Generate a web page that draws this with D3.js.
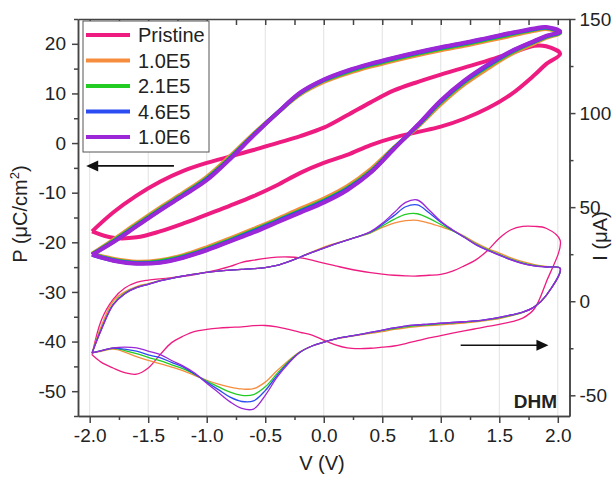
<!doctype html>
<html>
<head>
<meta charset="utf-8">
<title>P-V and I-V loops</title>
<script src="https://d3js.org/d3.v7.min.js"></script>
<style>
body { margin: 0; background: #fff; }
svg { font-family: "Liberation Sans", Arial, sans-serif; }
.axis text { font-size: 19px; fill: #222; }
.axis path, .axis line { stroke: #444; stroke-width: 1.5px; fill: none; }
.grid line { stroke: #e2e2e2; stroke-width: 1px; }
</style>
</head>
<body>
<svg width="613" height="479"></svg>
<script>

var names = ["Pristine", "1.0E5", "2.1E5", "4.6E5", "1.0E6"];
var colors = ["#ee1c80", "#f68d3e", "#22cc22", "#2b4cf2", "#9b27d6"];

// voltage grid of the P-V loops (V)
var vP = [-1.98, -1.8, -1.6, -1.4, -1.2, -1.0, -0.8, -0.6, -0.4, -0.2, 0, 0.2, 0.4, 0.6, 0.8, 1.0, 1.2, 1.4, 1.6, 1.8, 1.9, 2.02];

// P (uC/cm2) on the rising sweep and on the falling sweep
var pRise0 = [-17.8, -19.1, -19.0, -17.8, -16.2, -14.4, -12.6, -10.7, -8.5, -6.0, -4.0, -2.4, -0.4, 1.1, 2.2, 3.3, 4.9, 7.0, 9.8, 13.7, 15.9, 18.0];
var pFall0 = [-17.8, -14.0, -10.6, -7.8, -5.6, -4.0, -2.7, -1.4, 0.0, 1.4, 3.1, 5.6, 8.2, 10.6, 12.3, 13.8, 15.2, 16.6, 18.1, 19.6, 19.5, 18.0];
var pRise1 = [-22.3, -23.3, -23.9, -23.6, -22.6, -21.0, -19.2, -17.3, -15.3, -13.2, -11.2, -8.7, -5.3, -0.9, 3.2, 7.8, 11.8, 15.0, 17.9, 20.1, 21.2, 22.2];
var pFall1 = [-22.3, -19.5, -16.2, -13.0, -10.0, -6.8, -2.6, 1.9, 6.0, 9.8, 12.3, 14.0, 15.4, 16.6, 17.7, 18.7, 19.6, 20.6, 21.6, 22.6, 23.0, 22.2];
var pRise2 = [-22.4, -23.5, -24.1, -23.8, -22.8, -21.3, -19.5, -17.6, -15.6, -13.6, -11.6, -9.1, -5.7, -1.0, 3.4, 8.2, 12.2, 15.4, 18.2, 20.4, 21.4, 22.3];
var pFall2 = [-22.4, -19.7, -16.5, -13.3, -10.3, -7.1, -2.9, 1.7, 6.0, 10.0, 12.6, 14.3, 15.7, 16.9, 18.0, 19.0, 19.9, 20.9, 21.9, 22.9, 23.2, 22.3];
var pRise3 = [-22.5, -23.6, -24.2, -24.0, -23.0, -21.5, -19.7, -17.8, -15.8, -13.8, -11.8, -9.3, -5.9, -1.1, 3.5, 8.4, 12.4, 15.6, 18.4, 20.5, 21.5, 22.4];
var pFall3 = [-22.5, -19.9, -16.7, -13.5, -10.5, -7.3, -3.1, 1.6, 6.0, 10.1, 12.7, 14.5, 15.9, 17.1, 18.2, 19.2, 20.1, 21.1, 22.1, 23.0, 23.3, 22.4];
var pRise4 = [-22.5, -23.7, -24.3, -24.1, -23.1, -21.6, -19.8, -18.0, -16.0, -14.0, -12.0, -9.5, -6.0, -1.2, 3.6, 8.6, 12.6, 15.8, 18.5, 20.6, 21.6, 22.5];
var pFall4 = [-22.5, -20.0, -16.8, -13.6, -10.6, -7.5, -3.2, 1.5, 6.0, 10.2, 12.8, 14.6, 16.0, 17.2, 18.3, 19.3, 20.2, 21.2, 22.2, 23.1, 23.4, 22.5];

// voltage grid of the I-V curves (V)
var vI = [-1.98, -1.9, -1.8, -1.7, -1.6, -1.5, -1.4, -1.3, -1.2, -1.1, -1.0, -0.9, -0.8, -0.7, -0.6, -0.5, -0.4, -0.3, -0.2, -0.1,
          0, 0.1, 0.2, 0.3, 0.4, 0.5, 0.6, 0.7, 0.8, 0.9, 1.0, 1.1, 1.2, 1.3, 1.4, 1.5, 1.6, 1.7, 1.8, 1.9, 2.02];

// I (uA) on the rising sweep and on the falling sweep
var iRise0 = [-28.5, -10.0, 1.0, 7.0, 10.0, 11.2, 11.9, 12.5, 13.2, 14.2, 15.5, 16.8, 18.5, 20.7, 21.8, 22.8, 23.4, 23.5, 23.0, 21.8,
              20.2, 18.8, 17.4, 16.2, 15.2, 14.4, 13.8, 13.5, 13.4, 13.8, 14.3, 16.0, 18.8, 22.0, 27.0, 33.5, 38.0, 39.8, 39.8, 38.8, 32.4];
var iFall0 = [-28.5, -32.5, -35.5, -38.0, -38.8, -35.5, -28.5, -22.0, -18.5, -16.0, -15.0, -14.3, -13.9, -13.6, -13.0, -12.9, -13.6, -15.0, -16.5, -18.0,
              -20.7, -23.2, -24.8, -25.2, -25.0, -24.4, -23.8, -22.5, -21.0, -19.5, -18.3, -17.0, -15.8, -14.6, -13.4, -12.3, -11.0, -9.0, -4.0, 10.0, 32.4];
var iRise1 = [-27.5, -13.0, 0.0, 5.0, 7.8, 9.4, 11.0, 12.3, 13.5, 14.5, 15.3, 16.0, 16.5, 16.9, 17.3, 17.9, 19.0, 21.0, 23.5, 26.2,
              28.8, 30.8, 32.6, 34.4, 36.3, 39.2, 41.5, 42.8, 43.0, 41.5, 39.6, 37.5, 34.6, 31.0, 28.0, 25.6, 23.0, 21.0, 19.5, 18.5, 17.5];
var iFall1 = [-27.5, -26.6, -25.5, -27.0, -29.5, -31.5, -33.2, -35.0, -37.0, -39.5, -42.0, -44.0, -45.6, -46.6, -46.5, -43.0, -37.0, -31.5, -26.8, -23.8,
              -21.8, -20.2, -19.0, -18.0, -17.1, -16.2, -15.0, -14.2, -13.5, -13.0, -12.6, -12.1, -11.6, -11.0, -10.2, -9.2, -7.8, -6.0, -3.0, 3.0, 17.5];
var iRise2 = [-27.5, -14.5, -1.5, 4.3, 7.4, 9.1, 10.9, 12.2, 13.4, 14.4, 15.3, 16.0, 16.5, 16.9, 17.3, 17.9, 19.0, 21.0, 23.5, 26.0,
              28.2, 30.5, 32.5, 34.5, 36.5, 40.0, 43.5, 46.2, 46.5, 44.0, 40.8, 37.5, 34.2, 30.4, 27.4, 24.9, 22.4, 20.4, 19.0, 18.3, 17.5];
var iFall2 = [-27.5, -26.3, -25.0, -26.2, -27.8, -29.8, -31.6, -33.8, -36.0, -39.0, -42.5, -45.5, -48.3, -50.0, -49.6, -45.5, -38.5, -32.0, -26.9, -23.8,
              -21.8, -20.0, -18.8, -17.8, -16.7, -15.6, -14.5, -13.6, -12.9, -12.5, -12.0, -11.6, -11.1, -10.6, -9.8, -8.8, -7.5, -5.9, -3.0, 3.0, 17.5];
var iRise3 = [-27.5, -15.0, -2.0, 4.0, 7.2, 9.0, 10.8, 12.2, 13.4, 14.4, 15.3, 16.0, 16.5, 16.9, 17.3, 17.9, 19.0, 21.0, 23.5, 26.0,
              28.2, 30.5, 32.5, 34.5, 36.8, 40.8, 45.5, 50.2, 51.2, 47.0, 42.0, 37.8, 34.0, 30.1, 27.1, 24.6, 22.1, 20.1, 18.8, 18.2, 17.5];
var iFall3 = [-27.5, -26.2, -24.9, -25.5, -26.5, -28.5, -30.0, -32.5, -35.0, -38.8, -43.0, -47.0, -51.0, -53.3, -53.0, -47.5, -39.5, -32.5, -27.0, -23.8,
              -21.8, -20.0, -18.8, -17.8, -16.6, -15.4, -14.2, -13.2, -12.6, -12.2, -11.7, -11.3, -10.9, -10.4, -9.6, -8.6, -7.3, -5.8, -3.0, 3.0, 17.5];
var iRise4 = [-27.5, -15.0, -2.0, 4.0, 7.2, 9.0, 10.8, 12.2, 13.4, 14.4, 15.3, 16.0, 16.5, 16.9, 17.3, 17.9, 19.0, 21.0, 23.5, 26.0,
              28.2, 30.5, 32.5, 34.5, 37.0, 41.4, 47.0, 52.5, 53.8, 48.5, 42.5, 38.0, 34.0, 30.0, 27.0, 24.5, 22.0, 20.0, 18.8, 18.2, 17.5];
var iFall4 = [-27.5, -26.2, -24.8, -24.4, -24.8, -26.5, -28.2, -31.5, -34.5, -38.3, -43.6, -48.5, -53.5, -57.0, -57.3, -50.0, -40.5, -33.0, -27.0, -23.8,
              -21.8, -20.0, -18.8, -17.8, -16.6, -15.4, -14.2, -13.2, -12.6, -12.2, -11.7, -11.3, -10.9, -10.4, -9.6, -8.6, -7.3, -5.8, -3.0, 3.0, 17.5];

// tick labels
var vTicks = [-2.0, -1.5, -1.0, -0.5, 0.0, 0.5, 1.0, 1.5, 2.0];
var vMinor = [-1.75, -1.25, -0.75, -0.25, 0.25, 0.75, 1.25, 1.75];
var pTicks = [-50, -40, -30, -20, -10, 0, 10, 20];
var pMinor = [-55, -45, -35, -25, -15, -5, 5, 15, 25];
var iTicks = [-50, 0, 50, 100, 150];
var iMinor = [-25, 25, 75, 125];

var pRise = [pRise0, pRise1, pRise2, pRise3, pRise4];
var pFall = [pFall0, pFall1, pFall2, pFall3, pFall4];
var iRise = [iRise0, iRise1, iRise2, iRise3, iRise4];
var iFall = [iFall0, iFall1, iFall2, iFall3, iFall4];

var svg = d3.select("svg"),
    margin = {top: 19, right: 43.5, bottom: 63, left: 78},
    width = +svg.attr("width") - margin.left - margin.right,
    height = +svg.attr("height") - margin.top - margin.bottom;

var x = d3.scaleLinear().domain([-2.1, 2.1]).range([0, width]),
    yP = d3.scaleLinear().domain([-55, 25]).range([height, 0]),
    yI = d3.scaleLinear().domain([-61, 150]).range([height, 0]);

var g = svg.append("g")
    .attr("transform", "translate(" + margin.left + "," + margin.top + ")");

// vertical grid
g.append("g").attr("class", "grid")
  .selectAll("line").data(vTicks).enter().append("line")
    .attr("x1", function(d) { return x(d); })
    .attr("x2", function(d) { return x(d); })
    .attr("y1", 0).attr("y2", height);

// a closed loop: rising sweep, then falling sweep back
function loop(v, rise, fall, y) {
  var pts = v.map(function(d, i) { return [x(d), y(rise[i])]; });
  for (var i = v.length - 2; i >= 0; i--) pts.push([x(v[i]), y(fall[i])]);
  return d3.line().curve(d3.curveCatmullRom.alpha(0.5))(pts);
}

for (var k = 0; k < names.length; k++) {
  g.append("path")
    .attr("d", loop(vI, iRise[k], iFall[k], yI))
    .attr("fill", "none")
    .attr("stroke", colors[k])
    .attr("stroke-width", 1.3);
}
for (var k = 0; k < names.length; k++) {
  g.append("path")
    .attr("d", loop(vP, pRise[k], pFall[k], yP))
    .attr("fill", "none")
    .attr("stroke", colors[k])
    .attr("stroke-width", 4)
    .attr("stroke-linejoin", "round");
}

// axes
var fmt = function(d) { return d.toFixed(1); };

g.append("g").attr("class", "axis")
    .attr("transform", "translate(0," + height + ")")
    .call(d3.axisBottom(x).tickValues(vTicks).tickFormat(fmt).tickSize(7).tickSizeOuter(0).tickPadding(6));
g.append("g").attr("class", "axis")
    .attr("transform", "translate(0," + height + ")")
    .call(d3.axisBottom(x).tickValues(vMinor).tickFormat("").tickSize(4).tickSizeOuter(0));
g.append("g").attr("class", "axis")
    .call(d3.axisTop(x).tickValues(vTicks.concat(vMinor)).tickFormat("").tickSize(-6).tickSizeOuter(0));

g.append("g").attr("class", "axis")
    .call(d3.axisLeft(yP).tickValues(pTicks).tickFormat(function(d) { return d; }).tickSize(6).tickSizeOuter(0).tickPadding(6));
g.append("g").attr("class", "axis")
    .call(d3.axisLeft(yP).tickValues(pMinor).tickFormat("").tickSize(4).tickSizeOuter(0));

g.append("g").attr("class", "axis")
    .attr("transform", "translate(" + width + ",0)")
    .call(d3.axisRight(yI).tickValues(iTicks).tickFormat(function(d) { return d; }).tickSize(6).tickSizeOuter(0).tickPadding(4));
g.append("g").attr("class", "axis")
    .attr("transform", "translate(" + width + ",0)")
    .call(d3.axisRight(yI).tickValues(iMinor).tickFormat("").tickSize(4).tickSizeOuter(0));

// axis titles
svg.append("text")
    .attr("x", 322).attr("y", 470)
    .attr("text-anchor", "middle")
    .attr("font-size", 20).attr("fill", "#222")
    .text("V (V)");

var pl = svg.append("text")
    .attr("transform", "translate(27,214) rotate(-90)")
    .attr("text-anchor", "middle")
    .attr("font-size", 20).attr("fill", "#222");
pl.append("tspan").text("P (\u03bcC/cm");
pl.append("tspan").attr("font-size", 13).attr("dy", -8).text("2");
pl.append("tspan").attr("dy", 8).text(")");

svg.append("text")
    .attr("transform", "translate(607,236) rotate(-90)")
    .attr("text-anchor", "middle")
    .attr("font-size", 20).attr("fill", "#222")
    .text("I (\u03bcA)");

svg.append("text")
    .attr("x", 557).attr("y", 408)
    .attr("text-anchor", "end")
    .attr("font-size", 19).attr("font-weight", "bold").attr("fill", "#222")
    .text("DHM");

// sweep direction arrows
var arrowP = {from: -1.28, to: -2.03, at: -4.6};
var arrowI = {from: 1.17, to: 1.92, at: -23.4};

function arrow(a, y) {
  var x0 = x(a.from), x1 = x(a.to), yy = y(a.at), dir = x1 > x0 ? 1 : -1;
  g.append("line")
    .attr("x1", x0).attr("x2", x1 - dir * 8)
    .attr("y1", yy).attr("y2", yy)
    .attr("stroke", "#111").attr("stroke-width", 1.6);
  g.append("path")
    .attr("d", "M" + x1 + "," + yy + "L" + (x1 - dir * 12) + "," + (yy - 5.5) + "L" + (x1 - dir * 12) + "," + (yy + 5.5) + "Z")
    .attr("fill", "#111");
}
arrow(arrowP, yP);
arrow(arrowI, yI);

// legend
var legend = svg.append("g").attr("transform", "translate(83,21)");
legend.append("rect")
    .attr("width", 126).attr("height", 131)
    .attr("fill", "#fff").attr("stroke", "#555").attr("stroke-width", 1);
var item = legend.selectAll(".item").data(names).enter().append("g")
    .attr("transform", function(d, i) { return "translate(0," + (14 + i * 25.5) + ")"; });
item.append("line")
    .attr("x1", 3).attr("x2", 47)
    .attr("stroke", function(d, i) { return colors[i]; })
    .attr("stroke-width", 4);
item.append("text")
    .attr("x", 55).attr("y", 7)
    .attr("font-size", 20).attr("fill", "#222")
    .text(function(d) { return d; });

</script>
</body>
</html>
